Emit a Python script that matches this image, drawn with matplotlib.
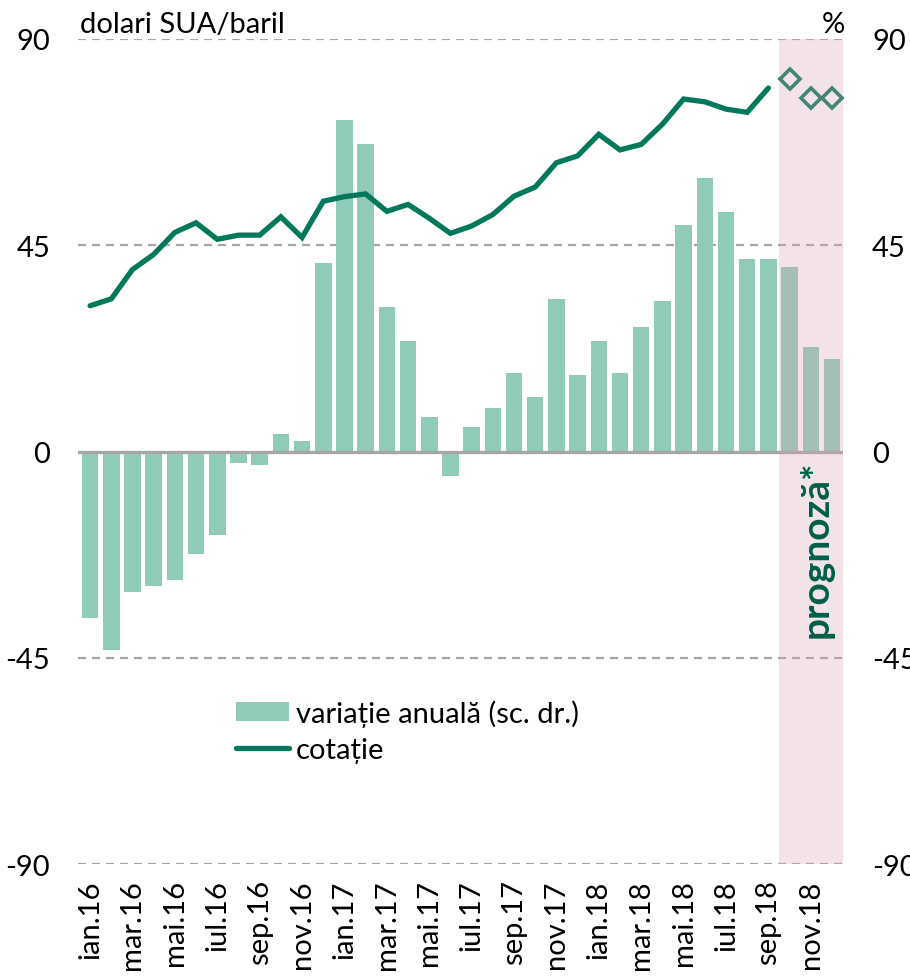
import numpy as np
import matplotlib
matplotlib.use("Agg")
import matplotlib.pyplot as plt
from matplotlib.patches import Patch
from matplotlib.lines import Line2D

# Data (jan.16 - dec.18)
months = ["ian.16", "feb.16", "mar.16", "apr.16", "mai.16", "iun.16",
          "iul.16", "aug.16", "sep.16", "oct.16", "nov.16", "dec.16",
          "ian.17", "feb.17", "mar.17", "apr.17", "mai.17", "iun.17",
          "iul.17", "aug.17", "sep.17", "oct.17", "nov.17", "dec.17",
          "ian.18", "feb.18", "mar.18", "apr.18", "mai.18", "iun.18",
          "iul.18", "aug.18", "sep.18", "oct.18", "nov.18", "dec.18"]

# annual change, % (right scale)
variatie = [-36.3, -43.3, -30.6, -29.3, -28.0, -22.3, -18.3, -2.6, -3.0, 3.9, 2.2, 41.2,
            72.3, 67.1, 31.6, 24.1, 7.5, -5.3, 5.3, 9.6, 17.1, 11.8, 33.3, 16.7,
            24.1, 17.1, 27.2, 32.9, 49.5, 59.6, 52.2, 42.1, 42.1, 40.3, 22.8, 20.2]

# price, USD/barrel (left scale), observed until sep.18
cotatie = [31.8, 33.3, 39.7, 43.0, 47.8, 49.9, 46.3, 47.2, 47.2, 51.2, 46.7, 54.6,
           55.6, 56.2, 52.4, 53.9, 50.9, 47.6, 49.2, 51.7, 55.7, 57.7, 63.0, 64.5,
           69.2, 65.8, 67.0, 71.4, 76.9, 76.3, 74.7, 74.0, 79.3]

# forecast price oct.18 - dec.18
prognoza = [81.2, 77.2, 77.2]

yticks = [-90, -45, 0, 45, 90]

BAR_COLOR = "#90cab9"
LINE_COLOR = "#00785a"
GRID_COLOR = "#a6a6a6"
BAND_COLOR = "#d9a3b8"
TXT_GREEN = "#005f47"

plt.rcParams["font.family"] = ["Lato", "DejaVu Sans"]
FS = 21

fig = plt.figure(figsize=(9.1, 9.78), dpi=100)
ax = fig.add_axes([78 / 910, 113 / 978, 765 / 910, 825 / 978])
ax2 = ax.twinx()

# line axis on top of bar axis
ax.set_zorder(2)
ax.patch.set_visible(False)
ax2.set_zorder(1)

x = np.arange(len(months))
n_obs = len(cotatie)

# gridlines + bars (right axis, %)
for yv in [-90, -45, 45, 90]:
    ax2.axhline(yv, color=GRID_COLOR, lw=1.6, ls=(0, (3.6, 2.7)), zorder=0)
ax2.bar(x, variatie, width=0.78, color=BAR_COLOR, zorder=2)
ax2.axhline(0, color=GRID_COLOR, lw=2.4, zorder=3)

# price line (left axis)
ax.plot(x[:n_obs], cotatie, color=LINE_COLOR, lw=3.8, solid_capstyle="round",
        solid_joinstyle="miter", zorder=3)
ax.plot(x[n_obs:], prognoza, ls="none", marker="D", ms=10, mfc="white",
        mec=LINE_COLOR, mew=2.6, zorder=3)

# forecast band
ax.axvspan(n_obs - 0.5, 35.52, color=BAND_COLOR, alpha=0.3, lw=0, zorder=5)
ax.text(34.25, -1.8, "prognoză*", rotation=90, ha="center", va="top",
        fontsize=28, fontweight="bold", color=TXT_GREEN, zorder=6)

for a in (ax, ax2):
    a.set_xlim(-0.57, 35.52)
    a.set_ylim(-90, 90)
    a.set_yticks(yticks)
    for s in a.spines.values():
        s.set_visible(False)

ax.set_yticklabels([str(v) for v in yticks])
ax2.set_yticklabels([str(v) for v in yticks])
ax.tick_params(axis="y", length=0, pad=20, labelsize=FS)
ax2.tick_params(axis="y", length=0, pad=21, labelsize=FS)
for lab in ax2.get_yticklabels():
    lab.set_ha("left")

ax.set_xticks(x[::2])
ax.set_xticklabels(months[::2], rotation=90)
ax.tick_params(axis="x", length=0, pad=11, labelsize=FS)

fig.text(80 / 910, 1 - 33 / 978, "dolari SUA/baril", fontsize=FS, va="baseline", ha="left")
fig.text(845 / 910, 1 - 33 / 978, "%", fontsize=FS, va="baseline", ha="right")

handles = [Patch(facecolor=BAR_COLOR, edgecolor="none"),
           Line2D([0], [0], color=LINE_COLOR, lw=3.8, solid_capstyle="round")]
fig.legend(handles, ["variație anuală (sc. dr.)", "cotație"],
           loc="upper left", bbox_to_anchor=(236 / 910, 1 - 700 / 978),
           frameon=False, fontsize=FS, handlelength=1.8, handleheight=0.65,
           handletextpad=0.25, labelspacing=0.35, borderpad=0, borderaxespad=0)

fig.savefig("out.png", dpi=100)
